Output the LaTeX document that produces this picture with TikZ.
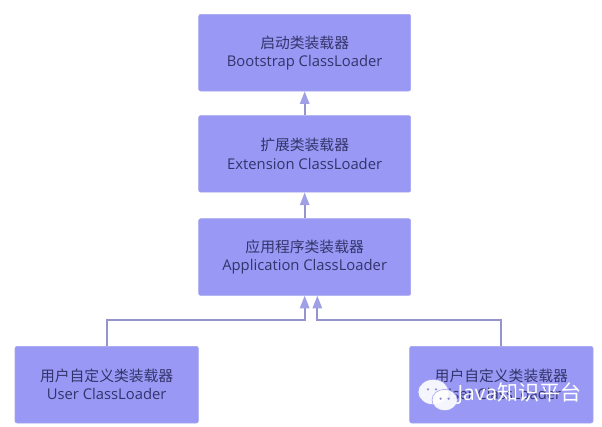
\documentclass[tikz,border=0pt]{standalone}
\usepackage{fontspec}
\setmainfont{Open Sans}
\newfontfamily\cjk{Noto Sans CJK SC}
\usetikzlibrary{positioning,arrows.meta,calc,shapes.geometric}
\definecolor{boxfill}{HTML}{9999F5}
\definecolor{boxline}{HTML}{A3A3EE}
\definecolor{flowline}{HTML}{9595CC}
\definecolor{tipfill}{HTML}{A0A0E6}
\definecolor{labeltext}{HTML}{33336B}

\begin{document}
\begin{tikzpicture}[
  font=\fontsize{11.1pt}{13.6pt}\selectfont,
  box/.style={draw=boxline,fill=boxfill,rounded corners=1.5pt,align=center,text=labeltext,
              minimum width=159pt,minimum height=57.5pt,inner sep=0pt},
  small/.style={box,minimum width=137.5pt},
  flow/.style={-{Triangle[length=9.5pt,width=7pt,color=tipfill]},draw=flowline,line width=1.5pt},
  bubble/.style={ellipse,fill=white,draw=boxfill,line width=.4pt,inner sep=0pt,fill opacity=.9},
  eye/.style={circle,fill=boxfill!70!gray,inner sep=0pt,minimum size=2pt},
  brandmark/.style={font=\fontsize{15.8pt}{16pt}\selectfont,text=white,inner sep=0pt,anchor=west}
]
\useasboundingbox (0,0) rectangle (451.5pt,-319.5pt);

% ---- main chain ----
\node[box] (boot) at (228.5pt,-39.5pt) {{\cjk 启动类装载器}\\Bootstrap ClassLoader};
\node[box,below=18pt of boot] (ext) {{\cjk 扩展类装载器}\\Extension ClassLoader};
\node[box,below=19.5pt of ext] (app) {{\cjk 应用程序类装载器}\\Application ClassLoader};

% ---- user loaders ----
\node[small] (userl) at (80pt,-288.5pt) {{\cjk 用户自定义类装载器}\\User ClassLoader};
\node[small] (userr) at (376pt,-288.5pt) {{\cjk 用户自定义类装载器}\\User ClassLoader};

\draw[flow] (ext)--(boot);
\draw[flow] (app)--(ext);
\coordinate (inl) at ($(app.south)+(0pt,0)$);
\coordinate (inr) at ($(app.south)+(9.5pt,0)$);
\coordinate (busl) at ($(inl)+(0,-18.5pt)$);
\coordinate (busr) at ($(inr)+(0,-18.5pt)$);
\draw[flow] (userl.north) |- (busl) -- (inl);
\draw[flow] (userr.north) |- (busr) -- (inr);

% ---- watermark ----
\node[bubble,minimum width=23pt,minimum height=19pt] (chat) at (325pt,-294pt) {};
\node[eye] at ($(chat)+(-4pt,2pt)$) {};
\node[eye] at ($(chat)+(2pt,2pt)$) {};
\node[bubble,minimum width=19pt,minimum height=16pt] (chatb) at (333.5pt,-300pt) {};
\node[eye] at ($(chatb)+(-3pt,1pt)$) {};
\node[eye] at ($(chatb)+(3pt,1pt)$) {};
\node[brandmark] (brand) at (343pt,-295pt) {Java{\cjk 知识平台}};
\end{tikzpicture}
\end{document}
